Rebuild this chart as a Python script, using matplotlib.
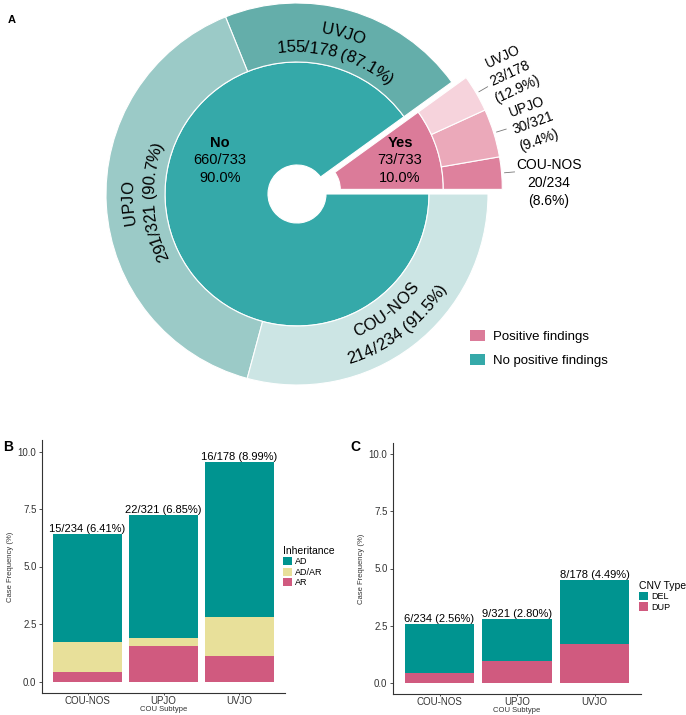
import numpy as np
import matplotlib
matplotlib.use("Agg")
import matplotlib.pyplot as plt
from matplotlib.patches import Patch
from matplotlib.font_manager import FontProperties, findfont, get_font

plt.rcParams['font.family'] = ['Liberation Sans', 'DejaVu Sans']

##### Data

subtypes = ['COU-NOS', 'UPJO', 'UVJO']

# panel A : findings per subtype
pos_counts = [20, 30, 23]
neg_counts = [214, 291, 155]
subtype_totals = [234, 321, 178]
pos_pct = ['8.6%', '9.4%', '12.9%']
neg_pct = ['91.5%', '90.7%', '87.1%']
total_cases = 733
pos_total = 73
neg_total = 660

# panel B : inheritance (case frequency %)
inh_AR = [0.43, 1.56, 1.12]
inh_ADAR = [1.28, 0.31, 1.69]
inh_AD = [4.70, 5.39, 6.74]
inh_labels = ['15/234 (6.41%)', '22/321 (6.85%)', '16/178 (8.99%)']

# panel C : CNV type (case frequency %)
cnv_DUP = [0.43, 0.93, 1.69]
cnv_DEL = [2.13, 1.87, 2.80]
cnv_labels = ['6/234 (2.56%)', '9/321 (2.80%)', '8/178 (4.49%)']

##### Colours

teal = '#35A9A9'
pink = '#DB7B99'
pos_cols = ['#DE819D', '#EBA9BA', '#F6D3DC']      # COU-NOS, UPJO, UVJO
neg_cols = ['#CCE5E4', '#9BCAC7', '#64AEAA']      # COU-NOS, UPJO, UVJO
bar_teal = '#009490'
bar_yellow = '#E8E09A'
bar_pink = '#D05A7F'

fig = plt.figure(figsize=(6.86, 7.15), dpi=100)

##### Panel A : nested pie (axes in pixel units)

ax = fig.add_axes([0, 1 - 400 / 715, 1, 400 / 715])
cx, cy = 297, 206
r_hole, r_in, r_out = 29, 132, 191
shift = 15

pos_frac = pos_total / total_cases
pos_angle = 360 * pos_frac
ex = shift * np.cos(np.radians(pos_angle / 2))
ey = shift * np.sin(np.radians(pos_angle / 2))

wp_in = dict(width=r_in - r_hole, edgecolor='white', linewidth=0.8)
wp_out = dict(width=r_out - r_in, edgecolor='white', linewidth=0.8)

# "Yes" half is pulled out as one block
ax.pie([pos_frac], normalize=False, radius=r_in, center=(cx + ex, cy + ey), startangle=0,
       colors=[pink], wedgeprops=wp_in)
ax.pie(np.array(pos_counts) / total_cases, normalize=False, radius=r_out,
       center=(cx + ex, cy + ey), startangle=0, colors=pos_cols, wedgeprops=wp_out)
ax.pie([neg_total / total_cases], normalize=False, radius=r_in, center=(cx, cy),
       startangle=pos_angle, colors=[teal], wedgeprops=wp_in)
ax.pie(np.array(neg_counts[::-1]) / total_cases, normalize=False, radius=r_out, center=(cx, cy),
       startangle=pos_angle, colors=neg_cols[::-1], wedgeprops=wp_out)


def glyph_metrics(s, size):
    # advance and left ink offset of every glyph, in pixels
    font = get_font(findfont(FontProperties(family='Liberation Sans')))
    font.set_size(size, 100)
    adv, xo = [], []
    for c in s:
        adv.append(font.load_char(ord(c)).linearHoriAdvance / 65536)
        font.set_text(c, 0.0)
        xo.append(font.get_bitmap_offset()[0] / 64)
    return np.array(adv), np.array(xo)


def arc_text(s, theta_mid, r_base, size, outward=True):
    # write a string along a circle round the pie centre, one glyph at a time
    adv, xo = glyph_metrics(s, size)
    pen = np.cumsum(adv) - adv - adv.sum() / 2
    r_mid = r_base + (6 if outward else -6)
    sgn = 1 if outward else -1
    for c, p, a, o in zip(s, pen, adv, xo):
        if c == ' ':
            continue
        phi = theta_mid - sgn * np.degrees((p + a / 2) / r_mid)
        rot = phi - 90 * sgn
        t = np.array([np.cos(np.radians(rot)), np.sin(np.radians(rot))])
        centre = np.array([cx + r_base * np.cos(np.radians(phi)), cy + r_base * np.sin(np.radians(phi))])
        start = centre - t * a / 2
        anchor = start + t * o - np.array([o, 0])
        ax.text(anchor[0], anchor[1], c, rotation=rot % 360, rotation_mode='anchor',
                ha='left', va='baseline', fontsize=size)


# inner labels
ax.text(cx - 77, cy + 51, 'No', ha='center', va='center', fontsize=10.5, fontweight='bold')
ax.text(cx - 77, cy + 25, '%d/%d\n%.1f%%' % (neg_total, total_cases, 100 * neg_total / total_cases),
        ha='center', va='center', fontsize=10.5, linespacing=1.3)
ax.text(cx + 103, cy + 51, 'Yes', ha='center', va='center', fontsize=10.5, fontweight='bold')
ax.text(cx + 103, cy + 25, '%d/%d\n%.1f%%' % (pos_total, total_cases, 100 * pos_total / total_cases),
        ha='center', va='center', fontsize=10.5, linespacing=1.3)

# outer ring labels, curved
outer_vals = pos_counts + neg_counts[::-1]
cum = np.cumsum([0] + outer_vals) / total_cases * 360
mids = (cum[:-1] + cum[1:]) / 2

neg_idx = [2, 1, 0]   # order in outer ring: UVJO, UPJO, COU-NOS
for k, i in enumerate(neg_idx):
    th = mids[3 + k]
    line2 = '%d/%d (%s)' % (neg_counts[i], subtype_totals[i], neg_pct[i])
    if th < 250:
        arc_text(subtypes[i], th, 163, 12, outward=True)
        arc_text(line2, th, 142, 12, outward=True)
    else:
        arc_text(subtypes[i], th, 155, 12, outward=False)
        arc_text(line2, th, 178, 12, outward=False)

# positive labels outside with leader lines
lab_r = [252, 246, 245]
lab_a = [2.5, 16.7, 29.6]
lab_rot = [0, 20, 25]
for i in range(3):
    th = np.radians(mids[i])
    ax.plot([cx + ex + 194 * np.cos(th), cx + ex + 204 * np.cos(th)],
            [cy + ey + 194 * np.sin(th), cy + ey + 204 * np.sin(th)],
            color='#777777', lw=0.6)
    x = cx + lab_r[i] * np.cos(np.radians(lab_a[i]))
    y = cy + lab_r[i] * np.sin(np.radians(lab_a[i]))
    txt = '%s\n%d/%d\n(%s)' % (subtypes[i], pos_counts[i], subtype_totals[i], pos_pct[i])
    ax.text(x, y, txt, ha='center', va='center', rotation=lab_rot[i], rotation_mode='anchor',
            fontsize=10, linespacing=1.35)

ax.set_xlim(0, 686)
ax.set_ylim(0, 400)
ax.set_aspect('equal')
ax.axis('off')

ax.legend(handles=[Patch(facecolor=pink), Patch(facecolor=teal)],
          labels=['Positive findings', 'No positive findings'],
          loc='upper left', bbox_to_anchor=(470 / 686, 1 - 330 / 715), bbox_transform=fig.transFigure,
          frameon=False, fontsize=9.5, handlelength=1.15, handleheight=0.95,
          handletextpad=0.6, labelspacing=0.8, borderpad=0, borderaxespad=0)

fig.text(8 / 686, 1 - 20 / 715, 'A', fontsize=8, fontweight='bold', va='center')

##### Panels B and C : stacked bars

def style_bar_axes(axb):
    axb.set_xlim(-0.6, 2.6)
    axb.set_ylim(-0.5, 10.5)
    axb.set_yticks([0, 2.5, 5, 7.5, 10])
    axb.set_yticklabels(['0.0', '2.5', '5.0', '7.5', '10.0'])
    axb.set_xticks(range(3))
    axb.set_xticklabels(subtypes)
    for s in ['top', 'right']:
        axb.spines[s].set_visible(False)
    for s in ['left', 'bottom']:
        axb.spines[s].set_linewidth(0.8)
        axb.spines[s].set_color('#333333')
    axb.tick_params(labelsize=7, length=2.5, width=0.6, color='#333333',
                    labelcolor='#333333', pad=1.5)
    axb.tick_params(axis='x', length=1.5, pad=0.5)
    axb.set_ylabel('Case Frequency (%)', fontsize=5.5, color='#333333', labelpad=3)
    axb.set_xlabel('COU Subtype', fontsize=5.5, color='#333333', labelpad=0)

xpos = np.arange(3)

ax_b = fig.add_axes([42 / 686, 22 / 715, 243 / 686, 253 / 715])
b1 = ax_b.bar(xpos, inh_AR, width=0.9, color=bar_pink)
b2 = ax_b.bar(xpos, inh_ADAR, width=0.9, bottom=inh_AR, color=bar_yellow)
b3 = ax_b.bar(xpos, inh_AD, width=0.9, bottom=np.add(inh_AR, inh_ADAR), color=bar_teal)
tot_b = np.add(np.add(inh_AR, inh_ADAR), inh_AD)
for i in range(3):
    ax_b.text(xpos[i], tot_b[i], inh_labels[i], ha='center', va='bottom', fontsize=8)
style_bar_axes(ax_b)
ax_b.legend([b3, b2, b1], ['AD', 'AD/AR', 'AR'], title='Inheritance', loc='center left',
            bbox_to_anchor=(0.99, 0.5), frameon=False, fontsize=6.5, title_fontsize=7.5,
            handlelength=1.0, handleheight=1.0, labelspacing=0.15, handletextpad=0.4,
            borderpad=0, borderaxespad=0, alignment='left')

ax_c = fig.add_axes([393 / 686, 21 / 715, 248 / 686, 251 / 715])
c1 = ax_c.bar(xpos, cnv_DUP, width=0.9, color=bar_pink)
c2 = ax_c.bar(xpos, cnv_DEL, width=0.9, bottom=cnv_DUP, color=bar_teal)
tot_c = np.add(cnv_DUP, cnv_DEL)
for i in range(3):
    ax_c.text(xpos[i], tot_c[i], cnv_labels[i], ha='center', va='bottom', fontsize=8)
style_bar_axes(ax_c)
ax_c.legend([c2, c1], ['DEL', 'DUP'], title='CNV Type', loc='center left',
            bbox_to_anchor=(0.99, 0.39), frameon=False, fontsize=6.5, title_fontsize=7.5,
            handlelength=1.0, handleheight=1.0, labelspacing=0.15, handletextpad=0.4,
            borderpad=0, borderaxespad=0, alignment='left')

fig.text(3 / 686, 1 - 447 / 715, 'B', fontsize=10, fontweight='bold', va='center')
fig.text(350 / 686, 1 - 447 / 715, 'C', fontsize=10, fontweight='bold', va='center')

fig.savefig('out.png', dpi=100)
